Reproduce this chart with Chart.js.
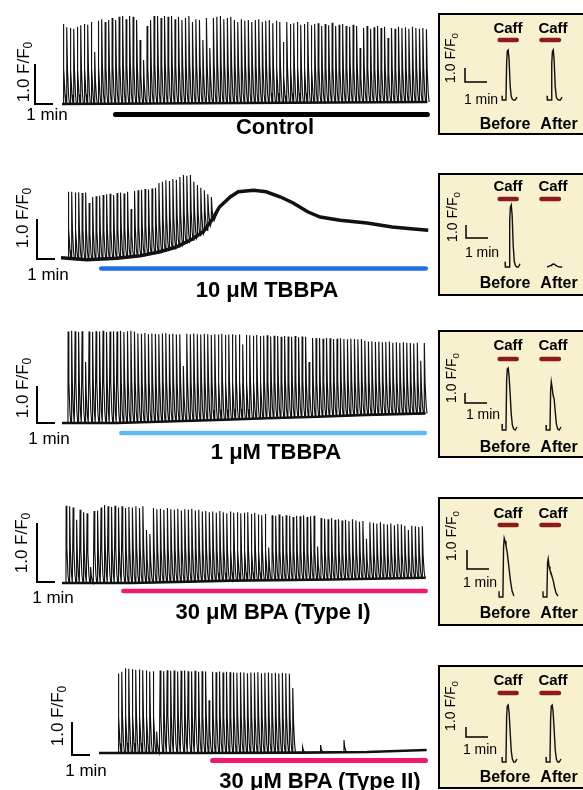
<!DOCTYPE html>
<html>
<head>
<meta charset="utf-8">
<script src="https://cdn.jsdelivr.net/npm/chart.js@4.4.1/dist/chart.umd.min.js"></script>
<style>
  body { margin: 0; background: #fff; }
  #fig { position: relative; width: 583px; height: 790px; overflow: hidden; font-family: "Liberation Sans", Arial, sans-serif; color: #000; }
  #fig canvas { position: absolute; left: 0; top: 0; }
  .t { position: absolute; transform: translate(-50%, -50%); white-space: nowrap; line-height: 1; }
  .title { font-weight: bold; font-size: 22px; }
  .rot { transform: translate(-50%, -50%) rotate(-90deg); }
  .lab { font-size: 17px; }
  .ilab { font-size: 14px; }
  .caff { font-weight: bold; font-size: 15px; }
  .ba { font-weight: bold; font-size: 16px; }
  .box { position: absolute; left: 438px; width: 170px; background: #f7f1cf; border: 2px solid #000; box-sizing: border-box; }
  sub { font-size: 70%; vertical-align: -0.3em; line-height: 0; }
</style>
</head>
<body>
<div id="fig"></div>
<script>
// ---- data ----
// F/F0 peak of each paced transient, per trace
const rowTitles = ['Control', '10 μM TBBPA', '1 μM TBBPA', '30 μM BPA (Type I)', '30 μM BPA (Type II)'];
const drugColors = ['#000000', '#1f6fe6', '#5db9f2', '#ee1a6b', '#ee1a6b'];
const pacePeriod = 0.194;  // min between transients
const spikeStart = [0.06, 0.39, 0.33, 0.22, 1.06];
const drugOn = [2.83, 2.11, 3.17, 3.28, 6.17];
const drugOff = [20.44, 20.39, 20.28, 20.33, 18.28];

const ctrlPeaks = [2.0, 1.92, 1.9, 1.88, 1.93, 1.97, 2.0, 1.98, 2.05, 1.3,
  2.08, 2.12, 2.05, 2.1, 2.15, 2.1, 2.18, 2.2, 2.12, 2.2,
  2.18, 2.1, 1.6, 1.1, 1.95, 2.1, 2.2, 2.2, 2.15, 2.2,
  2.18, 2.2, 2.12, 2.18, 2.1, 2.15, 2.2, 2.05, 2.12, 2.1,
  1.6, 2.15, 1.4, 2.15, 2.18, 2.2, 2.12, 2.15, 2.18, 2.1,
  2.05, 2.12, 2.08, 2.1, 2.05, 2.1, 2.12, 2.05, 2.08, 2.1,
  2.02, 2.08, 2.05, 1.55, 2.05, 2.0, 2.02, 2.05, 1.98, 2.0,
  2.05, 1.97, 2.0, 2.02, 1.95, 2.0, 1.97, 2.03, 1.95, 1.98,
  2.0, 1.95, 1.93, 1.98, 1.95, 1.4, 1.9, 1.95, 1.88, 1.92,
  1.95, 1.9, 1.93, 1.65, 1.9, 1.88, 1.93, 1.9, 1.92, 1.88,
  1.93, 1.9, 1.88, 1.9, 1.87];
const ctrlBaseT = [0, 20.3];
const ctrlBase = [0, 0.05];

const tb10Peaks = [1.68, 1.68, 1.66, 1.67, 1.65, 1.66, 1.4, 1.55, 1.57, 1.58,
  1.6, 1.62, 1.63, 1.6, 1.65, 1.66, 1.64, 1.68, 1.25, 1.7,
  1.72, 1.73, 1.75, 1.74, 1.76, 1.78, 1.9, 1.93, 1.97, 1.95,
  2.0, 1.98, 2.05, 2.1, 2.08, 2.1, 1.93, 1.85, 1.78, 1.72,
  1.62, 1.55];
const tb10BaseT = [0, 1.44, 3.1, 4.4, 5.5, 6.4, 7.3, 7.9, 8.45, 8.8, 9.4, 9.85, 10.7, 11.4, 12.2, 12.9, 13.7, 14.4, 15.5, 17.0, 18.4, 19.6, 20.4];
const tb10Base = [0.03, -0.02, 0.02, 0.08, 0.18, 0.3, 0.5, 0.68, 1.02, 1.3, 1.55, 1.68, 1.72, 1.68, 1.55, 1.4, 1.18, 1.05, 0.97, 0.9, 0.8, 0.75, 0.72];

const tb1Peaks = [2.47, 2.49, 2.48, 2.46, 2.48, 1.65, 2.47, 2.46, 2.48, 2.47,
  2.49, 2.46, 2.47, 2.48, 2.47, 2.49, 2.46, 2.48, 2.49, 2.47,
  2.42, 2.41, 2.43, 2.4, 2.42, 2.41, 2.4, 2.42, 2.43, 2.4,
  2.41, 2.39, 2.4, 1.54, 2.41, 2.4, 2.42, 2.4, 2.39, 2.41,
  2.4, 2.38, 2.4, 2.39, 2.41, 2.38, 2.39, 2.4, 2.38, 2.39,
  2.12, 2.38, 2.37, 2.36, 2.38, 2.35, 2.36, 2.37, 2.34, 2.36,
  2.35, 2.33, 2.35, 2.34, 2.33, 2.35, 2.32, 2.34, 2.33, 1.65,
  2.3, 2.29, 2.3, 2.28, 2.3, 2.29, 2.27, 2.28, 2.29, 2.27,
  2.26, 2.28, 2.27, 2.26, 2.27, 2.22, 2.2, 2.21, 2.19, 2.2,
  2.18, 2.19, 2.2, 2.17, 2.18, 2.16, 2.18, 2.17, 2.16, 2.15,
  2.17, 1.68, 2.16];
const tb1BaseT = [0, 3.05, 5.8, 8.6, 11.4, 14.2, 16.9, 20.2];
const tb1Base = [0, 0, 0.04, 0.08, 0.13, 0.17, 0.22, 0.26];

const bpa1Peaks = [1.31, 1.3, 1.28, 1.07, 1.24, 1.2, 1.18, 0.27, 1.22, 1.23,
  1.28, 1.32, 1.3, 1.29, 1.31, 1.28, 1.3, 1.27, 1.29, 1.28,
  1.3, 1.27, 1.3, 0.9, 0.83, 1.27, 1.25, 1.26, 1.24, 1.27,
  1.25, 1.24, 1.26, 1.23, 1.25, 1.24, 1.26, 1.23, 1.24, 1.21,
  1.22, 1.2, 1.21, 1.19, 1.22, 1.2, 1.18, 1.21, 1.19, 1.2,
  1.18, 1.19, 1.2, 1.17, 1.19, 1.16, 1.15, 1.17, 0.6, 1.15,
  1.14, 1.16, 1.13, 1.15, 1.14, 1.12, 1.14, 1.13, 1.15, 1.12,
  1.13, 1.14, 0.62, 1.1, 1.09, 1.08, 1.1, 1.07, 1.08, 1.06,
  1.07, 1.05, 1.08, 1.06, 1.04, 1.05, 0.75, 1.03, 1.02, 1.01,
  1.03, 1.0, 0.99, 1.01, 0.98, 1.0, 0.99, 0.97, 0.9, 0.97,
  0.96, 0.95, 0.96];
const bpa1BaseT = [0, 3.9, 9.5, 15.0, 20.2];
const bpa1Base = [0, 0, 0.04, 0.06, 0.09];

const bpa2Peaks = [2.41, 2.46, 2.57, 2.55, 2.54, 2.52, 2.53, 2.51, 2.5, 2.47,
  2.48, 0.65, 2.5, 2.48, 2.51, 2.49, 2.5, 2.47, 2.49, 2.5,
  2.48, 2.47, 2.49, 2.46, 2.48, 2.47, 1.6, 2.46, 2.45, 2.47,
  2.44, 2.46, 2.45, 2.44, 2.43, 2.45, 2.44, 2.42, 2.44, 2.43,
  2.45, 2.42, 2.43, 2.44, 2.42, 2.43, 2.41, 2.43, 2.42, 2.4,
  1.97];
const bpa2LateT = [11.3, 12.3, 13.6];
const bpa2LatePeaks = [0.18, 0.24, 0.39];
const bpa2BaseT = [0, 5.6, 11.2, 14.9, 18.2];
const bpa2Base = [0, 0, 0.01, 0.03, 0.09];

// caffeine insets: offsets (min) from onset, F/F0 values
const caffOn = [2.7, 4.6];
const caffOff = [3.68, 5.6];
const caffBeforeAt = [3.09, 3.23, 3.09, 2.95, 3.09];
const caffAfterAt = [5.14, 5.14, 5.09, 4.95, 5.09];
const caffT = [-0.18, -0.17, 0, 0.03, 0.06, 0.1, 0.14, 0.19, 0.24, 0.29, 0.35, 0.42, 0.5];
const ctrlCaffBefore = [0.3, 0, 0, 2.7, 3.5, 3.57, 2.9, 1.0, 0.25, 0.05, 0, 0, 0.2];
const ctrlCaffAfter = [0.3, 0, 0, 2.6, 3.45, 3.57, 2.8, 0.9, 0.2, 0.05, 0, 0, 0.2];
const tb10CaffBefore = [0.4, 0, 0, 3.6, 4.6, 4.77, 4.0, 1.6, 0.4, 0.1, 0, 0, 0.25];
const tb10CaffAfter = [0, 0, 0.12, 0.16, 0.2, 0.23, 0.21, 0.16, 0.1, 0.05, 0.01, 0, 0];
const tb1CaffBefore = [0.6, 0, 0, 5.0, 6.1, 6.2, 5.4, 3.6, 1.6, 0.5, 0.1, 0, 0.3];
const tb1CaffAfter = [0.5, 0, 0, 4.0, 4.8, 4.2, 3.5, 3.1, 1.8, 0.6, 0.1, 0, 0.3];
const bpa1CaffBefore = [0.3, 0, 0, 2.6, 3.1, 2.95, 2.7, 2.4, 1.9, 1.4, 0.8, 0.3, 0.05];
const bpa1CaffAfter = [0.3, 0, 0, 1.8, 2.0, 1.6, 1.42, 1.25, 1.05, 0.85, 0.5, 0.2, 0.05];
const bpa2CaffBefore = [0.5, 0, 0, 4.6, 5.6, 5.7, 5.0, 3.0, 1.1, 0.3, 0, 0, 0.3];
const bpa2CaffAfter = [0.5, 0, 0, 4.4, 5.6, 5.7, 5.1, 3.2, 1.2, 0.3, 0, 0, 0.3];

// ---- layout (page pixels) ----
const W = 583, H = 790;
const PX_MIN = 18, IPX_MIN = 22, INSET_X0 = 438;
const layout = [
  { x0: 62, y0: 104, pxU: 40, bar: [35, 104], drugY: 114.5, drugW: 5, title: [275, 127], rot: [23, 72], min: [47, 114],
    box: [13, 135], iy0: 100, ipxU: 14, ibar: [465, 82], caffY: 40, caffTxtY: 27, baY: 124, irot: [450, 58], imin: [481, 99] },
  { x0: 61, y0: 259, pxU: 40, bar: [37, 259], drugY: 268.5, drugW: 4.5, title: [267, 290], rot: [22, 218], min: [48, 274],
    box: [173, 296], iy0: 267, ipxU: 13, ibar: [466, 238], caffY: 199, caffTxtY: 185, baY: 283, irot: [452, 217], imin: [482, 252] },
  { x0: 62, y0: 423, pxU: 37, bar: [37, 423], drugY: 433, drugW: 4.5, title: [276, 452], rot: [22, 388], min: [49, 438],
    box: [330, 458], iy0: 430, ipxU: 10, ibar: [465, 403], caffY: 359, caffTxtY: 344, baY: 447, irot: [451, 378], imin: [483, 414] },
  { x0: 62, y0: 583, pxU: 59, bar: [37, 582], drugY: 591, drugW: 4.5, title: [273, 612], rot: [21, 543], min: [53, 597],
    box: [497, 626], iy0: 597, ipxU: 19, ibar: [467, 569], caffY: 525, caffTxtY: 512, baY: 613, irot: [451, 536], imin: [480, 582] },
  { x0: 99, y0: 753, pxU: 33, bar: [72, 755], drugY: 760.5, drugW: 5, title: [320, 781], rot: [57, 716], min: [86, 770],
    box: [665, 789], iy0: 762, ipxU: 10, ibar: [466, 737], caffY: 693, caffTxtY: 679, baY: 777, irot: [450, 706], imin: [480, 749] }
];

const traces = [
  { peaks: ctrlPeaks, bt: ctrlBaseT, bv: ctrlBase, cb: ctrlCaffBefore, ca: ctrlCaffAfter },
  { peaks: tb10Peaks, bt: tb10BaseT, bv: tb10Base, cb: tb10CaffBefore, ca: tb10CaffAfter },
  { peaks: tb1Peaks, bt: tb1BaseT, bv: tb1Base, cb: tb1CaffBefore, ca: tb1CaffAfter },
  { peaks: bpa1Peaks, bt: bpa1BaseT, bv: bpa1Base, cb: bpa1CaffBefore, ca: bpa1CaffAfter },
  { peaks: bpa2Peaks, bt: bpa2BaseT, bv: bpa2Base, cb: bpa2CaffBefore, ca: bpa2CaffAfter, lateT: bpa2LateT, lateP: bpa2LatePeaks }
];

// scale bars + treatment bars, sized from the chart scales
const decor = {
  id: 'decor',
  afterDatasetsDraw(chart, args, o) {
    const { ctx, scales: { x, y } } = chart;
    ctx.save();
    (o.bars || []).forEach(b => {
      ctx.strokeStyle = b.color;
      ctx.lineWidth = b.w;
      ctx.lineCap = 'round';
      ctx.beginPath();
      ctx.moveTo(x.getPixelForValue(b.from) + b.w / 2, b.y);
      ctx.lineTo(x.getPixelForValue(b.to) - b.w / 2, b.y);
      ctx.stroke();
    });
    if (o.scaleBar) {
      const [cx, cy] = o.scaleBar;
      const h = y.getPixelForValue(0) - y.getPixelForValue(1);
      const w = x.getPixelForValue(1) - x.getPixelForValue(0);
      ctx.strokeStyle = '#000';
      ctx.lineWidth = o.scaleW;
      ctx.lineCap = 'butt';
      ctx.beginPath();
      ctx.moveTo(cx, cy - h);
      ctx.lineTo(cx, cy);
      ctx.lineTo(cx + w, cy);
      ctx.stroke();
    }
    ctx.restore();
  }
};
Chart.register(decor);

function baseAt(bt, bv, t) {
  for (let i = 1; i < bt.length; i++) {
    if (t <= bt[i]) {
      const f = (t - bt[i - 1]) / (bt[i] - bt[i - 1]);
      return bv[i - 1] + f * (bv[i] - bv[i - 1]);
    }
  }
  return bv[bv.length - 1];
}

// transients sit on the slow baseline
function traceData(times, peaks, bt, bv) {
  const pts = [];
  bt.forEach((t, i) => {
    if (!times.some(s => t >= s && t <= s + 0.16)) pts.push({ x: t, y: bv[i] });
  });
  times.forEach((t, i) => {
    const b = baseAt(bt, bv, t), p = peaks[i];
    pts.push({ x: t, y: b }, { x: t + 0.01, y: p }, { x: t + 0.05, y: b + 0.45 * (p - b) },
      { x: t + 0.11, y: b + 0.12 * (p - b) }, { x: t + 0.16, y: b });
  });
  return pts.sort((a, b) => a.x - b.x);
}

const fig = document.getElementById('fig');

function addText(html, pos, cls) {
  const d = document.createElement('div');
  d.className = 't ' + cls;
  d.innerHTML = html;
  d.style.left = pos[0] + 'px';
  d.style.top = pos[1] + 'px';
  fig.appendChild(d);
}

function makeChart(x0, y0, pxMin, pxU, datasets, decorOpts) {
  const cv = document.createElement('canvas');
  cv.width = W;
  cv.height = H;
  fig.appendChild(cv);
  return new Chart(cv, {
    type: 'line',
    data: { datasets: datasets },
    options: {
      responsive: false,
      animation: false,
      devicePixelRatio: 1,
      events: [],
      layout: { padding: 0 },
      elements: { point: { radius: 0 }, line: { tension: 0 } },
      plugins: { legend: { display: false }, tooltip: { enabled: false }, decor: decorOpts },
      scales: {
        x: { type: 'linear', display: false, min: -x0 / pxMin, max: (W - x0) / pxMin },
        y: { type: 'linear', display: false, min: -(H - y0) / pxU, max: y0 / pxU }
      }
    }
  });
}

// inset boxes first so the canvases sit on top
layout.forEach(L => {
  const b = document.createElement('div');
  b.className = 'box';
  b.style.top = L.box[0] + 'px';
  b.style.height = (L.box[1] - L.box[0]) + 'px';
  fig.appendChild(b);
});

layout.forEach((L, r) => {
  const tr = traces[r];
  let times = tr.peaks.map((p, i) => spikeStart[r] + i * pacePeriod);
  let peaks = tr.peaks.slice();
  if (tr.lateT) {
    times = times.concat(tr.lateT);
    peaks = peaks.concat(tr.lateP);
  }

  // main trace
  makeChart(L.x0, L.y0, PX_MIN, L.pxU, [
    { data: tr.bt.map((t, i) => ({ x: t, y: tr.bv[i] })), borderColor: '#111', borderWidth: r === 1 ? 3.5 : 2.6 },
    { data: traceData(times, peaks, tr.bt, tr.bv), borderColor: '#111', borderWidth: 1.15 }
  ], {
    bars: [{ from: drugOn[r], to: drugOff[r], y: L.drugY, w: L.drugW, color: drugColors[r] }],
    scaleBar: L.bar, scaleW: 2
  });

  // caffeine inset
  makeChart(INSET_X0, L.iy0, IPX_MIN, L.ipxU, [
    { data: caffT.map((o, k) => ({ x: caffBeforeAt[r] + o, y: tr.cb[k] })), borderColor: '#111', borderWidth: 1.4 },
    { data: caffT.map((o, k) => ({ x: caffAfterAt[r] + o, y: tr.ca[k] })), borderColor: '#111', borderWidth: 1.4 }
  ], {
    bars: caffOn.map((on, k) => ({ from: on, to: caffOff[k], y: L.caffY, w: 4.5, color: '#8b1c1c' })),
    scaleBar: L.ibar, scaleW: 1.5
  });

  addText(rowTitles[r], L.title, 'title');
  addText('1.0 F/F<sub>0</sub>', L.rot, 'rot lab');
  addText('1 min', L.min, 'lab');
  addText('1.0 F/F<sub>0</sub>', L.irot, 'rot ilab');
  addText('1 min', L.imin, 'ilab');
  addText('Caff', [508, L.caffTxtY], 'caff');
  addText('Caff', [553, L.caffTxtY], 'caff');
  addText('Before', [505, L.baY], 'ba');
  addText('After', [559, L.baY], 'ba');
});
</script>
</body>
</html>
